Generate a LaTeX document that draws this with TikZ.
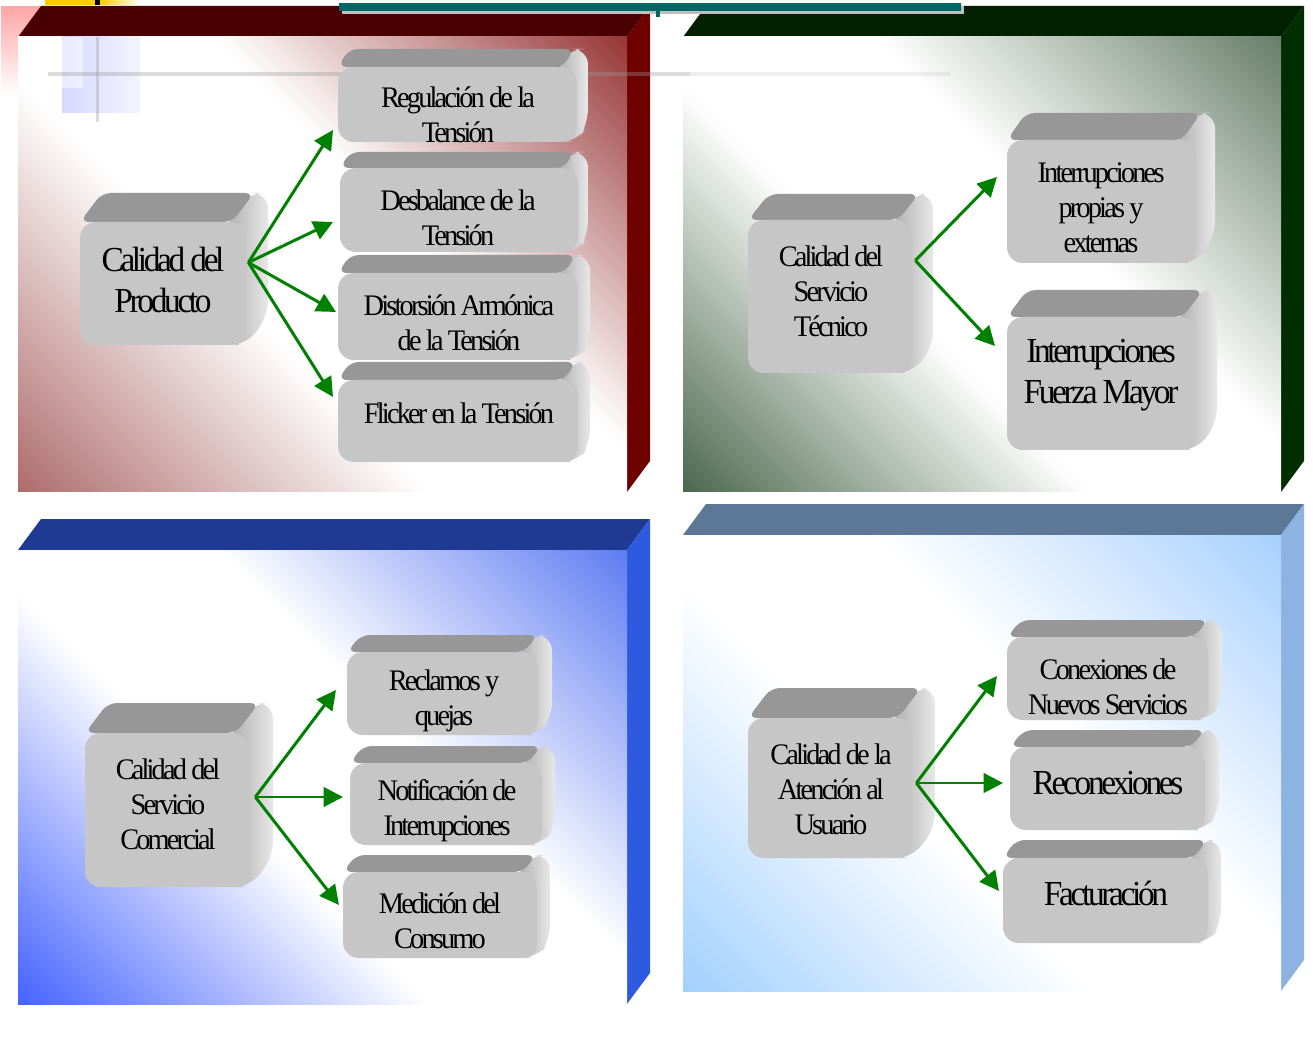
\documentclass[tikz,border=0pt]{standalone}
\usepackage{fontspec}
\setmainfont{Liberation Serif}[LetterSpace=-9.5,FakeStretch=0.95]
\usetikzlibrary{arrows.meta,calc}

\definecolor{rojoTapa}{HTML}{4A0000}
\definecolor{rojoLado}{HTML}{6E0000}
\definecolor{rojoA}{HTML}{A65E5E}
\definecolor{rojoB}{HTML}{8E2424}
\definecolor{verdeTapa}{HTML}{002000}
\definecolor{verdeLado}{HTML}{002E00}
\definecolor{verdeA}{HTML}{3A5A3C}
\definecolor{verdeB}{HTML}{5A725C}
\definecolor{azulTapa}{HTML}{1F3A93}
\definecolor{azulLado}{HTML}{2E5AE0}
\definecolor{azulA}{HTML}{3355FF}
\definecolor{azulB}{HTML}{5070F0}
\definecolor{celesteTapa}{HTML}{5C7896}
\definecolor{celesteLado}{HTML}{8DB3E2}
\definecolor{celesteA}{HTML}{99CCFF}
\definecolor{celesteB}{HTML}{A0CCFF}
\definecolor{grisFrente}{HTML}{C6C6C6}
\definecolor{grisTapa}{HTML}{979797}
\definecolor{flechaVerde}{HTML}{008000}
\definecolor{petroleo}{HTML}{006666}
\definecolor{amarillo}{HTML}{FFCC00}

% degradado de la cara frontal de cada panel
\newcommand\frente[3]{\pgfdeclarehorizontalshading{#1}{100bp}{color(0bp)=(#2); color(12bp)=(#2); color(27bp)=(#2!50!white); color(42bp)=(white); color(58bp)=(white); color(73bp)=(#3!50!white); color(88bp)=(#3); color(100bp)=(#3)}}
\frente{frenteRojo}{rojoA}{rojoB}
\frente{frenteVerde}{verdeA}{verdeB}
\frente{frenteAzul}{azulA}{azulB}
\frente{frenteCeleste}{celesteA}{celesteB}

\tikzset{
  cubofrente/.style={fill=grisFrente, rounded corners=9pt, inner sep=0pt},
  cubotapa/.style={fill=grisTapa, rounded corners=5pt},
  cubolado/.style={left color=black!32, right color=black!9, rounded corners=9pt},
  texto/.style={align=center, inner sep=0pt, font=\fontsize{17}{20}\selectfont},
  textoG/.style={texto, font=\fontsize{20}{23}\selectfont},
  flecha/.style={draw=flechaVerde, line width=1.7pt, -{Triangle[length=11pt,width=11pt]}},
}

% panel: x1, y1, x2, y2, tapa, lado, degradado
\newcommand\panel[7]{%
  \fill[#5] (#1,#2) -- (#1+23,#2-31) -- (#3+23,#2-31) -- (#3,#2) -- cycle;
  \fill[#6] (#3,#2) -- (#3+23,#2-31) -- (#3+23,#4-31) -- (#3,#4) -- cycle;
  \shade[shading=#7, shading angle=45] (#1,#2) rectangle (#3,#4);
}

% cubo: nombre, x1, y1, x2, y2, dx, dy
\newcommand\cubo[7]{%
  \shade[cubolado] (#4-20,#3) -- (#4-20+#6,#3-#7) -- (#4+#6,#3-#7) -- (#4+#6,#5-#7) -- (#4,#5) -- (#4-20,#5) -- cycle;
  \fill[cubotapa] (#2,#3) -- (#2+#6,#3-#7) -- (#4+#6-14,#3-#7) -- (#4-14,#3) -- cycle;
  \node[cubofrente, minimum width={(#4-#2)*0.02cm}, minimum height={(#5-#3)*0.02cm}] (#1) at ({(#2+#4)/2},{(#3+#5)/2}) {};
}

\begin{document}
\begin{tikzpicture}[x=0.02cm, y=-0.02cm]
    \useasboundingbox (0,0) rectangle (1313,1044);
    \fill[white] (0,0) rectangle (1313,1044);

    % restos de la plantilla
    \shade[top color=red!35!white, bottom color=white] (1,7) rectangle (40,95);
    \fill[amarillo] (45,0) rectangle (95,5);
    \fill[black] (95,0) rectangle (100,5);
    \shade[left color=amarillo, right color=white] (100,0) rectangle (140,5);

    % los cuatro paneles
    \panel{18}{37}{627}{492}{rojoTapa}{rojoLado}{frenteRojo}
    \panel{683}{37}{1281}{492}{verdeTapa}{verdeLado}{frenteVerde}
    \panel{18}{550}{627}{1004}{azulTapa}{azulLado}{frenteAzul}
    \panel{683}{535}{1281}{991}{celesteTapa}{celesteLado}{frenteCeleste}

    \fill[black!25] (342,6) rectangle (964,14);
    \fill[petroleo] (339,3) rectangle (961,11);
    \fill[petroleo] (656,11) rectangle (660,17);
    \shade[left color=blue!22, right color=blue!6, opacity=0.7] (62,37) rectangle (140,113);
    \fill[white, opacity=0.5] (62,37) rectangle (83,88);
    \fill[black!40, opacity=0.35] (48,72) rectangle (690,76);
    \fill[black!40, opacity=0.15] (690,72) rectangle (950,76);
    \fill[black!40, opacity=0.35] (96,37) rectangle (99,122);

    % Calidad del Producto
    \cubo{prod}{80}{222}{246}{345}{22}{29}
    \cubo{reg}{338}{67}{577}{142}{11}{18}
    \cubo{des}{340}{168}{578}{252}{10}{16}
    \cubo{dis}{338}{273}{578}{360}{12}{18}
    \cubo{fli}{338}{380}{578}{462}{12}{18}
    \node[textoG] (prodT) at (163,280) {Calidad del\\Producto};
    \node[texto] (regT) at (458,115) {Regulación de la\\Tensión};
    \node[texto] (desT) at (458,218) {Desbalance de la\\Tensión};
    \node[texto] (disT) at (459,323) {Distorsión Armónica\\de la Tensión};
    \node[texto] (fliT) at (459,413) {Flicker en la Tensión};
    \coordinate (oProd) at ($(prod.east)+(2,-21)$);
    \coordinate (pReg) at (333,130);
    \coordinate (pDes) at (333,222);
    \coordinate (pDis) at (336,312);
    \coordinate (pFli) at (333,397);
    \foreach \p in {pReg,pDes,pDis,pFli}
        \draw[flecha] (oProd) -- (\p);

    % Calidad del Servicio Tecnico
    \cubo{tec}{748}{220}{912}{373}{21}{26}
    \cubo{pro}{1007}{140}{1196}{263}{19}{27}
    \cubo{fue}{1007}{317}{1197}{450}{20}{27}
    \node[texto] (tecT) at (831,291) {Calidad del\\Servicio\\Técnico};
    \node[texto] (proT) at (1101,208) {Interrupciones\\propias y\\externas};
    \node[textoG] (fueT) at (1101,375) {Interrupciones\\Fuerza Mayor};
    \coordinate (oTec) at ($(tec.east)+(3,-36)$);
    \coordinate (pPro) at (997,177);
    \coordinate (pFue) at (995,346);
    \foreach \p in {pPro,pFue}
        \draw[flecha] (oTec) -- (\p);

    % Calidad del Servicio Comercial
    \cubo{com}{85}{733}{250}{887}{23}{30}
    \cubo{rec}{347}{652}{538}{735}{14}{17}
    \cubo{not}{350}{763}{542}{845}{13}{17}
    \cubo{med}{343}{872}{537}{958}{13}{17}
    \node[texto] (comT) at (168,804) {Calidad del\\Servicio\\Comercial};
    \node[texto] (recT) at (444,701) {Reclamos y\\quejas};
    \node[texto] (notT) at (447,811) {Notificación de\\Interrupciones};
    \node[texto] (medT) at (440,921) {Medición del\\Consumo};
    \coordinate (oCom) at ($(com.east)+(5,-13)$);
    \coordinate (pRec) at (336,690);
    \coordinate (pNot) at (343,797);
    \coordinate (pMed) at (339,905);
    \foreach \p in {pRec,pNot,pMed}
        \draw[flecha] (oCom) -- (\p);

    % Calidad de la Atencion al Usuario
    \cubo{usu}{748}{718}{912}{858}{23}{30}
    \cubo{con}{1007}{637}{1208}{720}{14}{17}
    \cubo{rcx}{1010}{747}{1205}{830}{14}{17}
    \cubo{fac}{1003}{858}{1208}{943}{13}{18}
    \node[texto] (usuT) at (831,789) {Calidad de la\\Atención al\\Usuario};
    \node[texto] (conT) at (1108,687) {Conexiones de\\Nuevos Servicios};
    \node[textoG] (rcxT) at (1108,783) {Reconexiones};
    \node[textoG] (facT) at (1106,893) {Facturación};
    \coordinate (oUsu) at ($(usu.east)+(4,-5)$);
    \coordinate (pCon) at (997,676);
    \coordinate (pRcx) at (1003,783);
    \coordinate (pFac) at (999,891);
    \foreach \p in {pCon,pRcx,pFac}
        \draw[flecha] (oUsu) -- (\p);
\end{tikzpicture}
\end{document}
